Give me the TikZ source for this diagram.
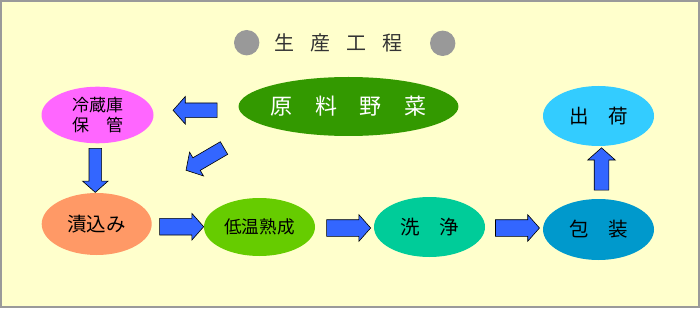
\documentclass[tikz,border=0pt]{standalone}
\usepackage{fontspec}
\newfontfamily\jp{Noto Sans CJK JP}
\usetikzlibrary{shapes.geometric,shapes.arrows}
\definecolor{bgyellow}{HTML}{FFFFCC}
\definecolor{framegray}{HTML}{9A9A9A}
\definecolor{dotgray}{HTML}{999999}
\definecolor{cmagenta}{HTML}{FF66FF}
\definecolor{cdkgreen}{HTML}{339900}
\definecolor{csalmon}{HTML}{FF9966}
\definecolor{clime}{HTML}{66CC00}
\definecolor{cteal}{HTML}{00CC99}
\definecolor{cblue}{HTML}{0099CC}
\definecolor{csky}{HTML}{33CCFF}
\definecolor{carrow}{HTML}{3366FF}
\definecolor{ctitle}{HTML}{333333}
\begin{document}
\begin{tikzpicture}[x=1pt,y=1pt,
  stage/.style={ellipse, inner sep=0pt, font=\jp, text=black, align=center},
  blockarrow/.style={single arrow, draw=black, line width=0.6pt, fill=carrow,
    inner sep=0pt, inner ysep=7pt, minimum height=44pt,
    single arrow head extend=6.5pt, single arrow tip angle=97, anchor=center},
  dot/.style={circle, fill=dotgray, inner sep=0pt, minimum size=25.4pt}]
\useasboundingbox (0,0) rectangle (700,308);
\fill[bgyellow] (0,0) rectangle (700,308);
\draw[framegray, line width=2pt] (1,1.2) rectangle (698.8,307);
% title
\node[dot] (dotL) at (246.7,265.3) {};
\node[dot] (dotR) at (442.7,264.7) {};
\node[font=\jp\fontsize{20}{24}\selectfont, text=ctitle, inner sep=0pt] (title) at (338,265.5)
  {生\hspace{16pt}産\hspace{16pt}工\hspace{16pt}程};
% stages
\node[stage, fill=cmagenta, minimum width=112pt, minimum height=56.6pt,
  font=\jp\fontsize{17}{20}\selectfont] (reizo) at (97.5,193) {冷蔵庫\\保\hspace{17pt}管};
\node[stage, fill=cdkgreen, minimum width=192pt, minimum height=59pt, text=white,
  font=\jp\fontsize{22}{26}\selectfont] (genryo) at (348.5,201.5)
  {原\hspace{22.5pt}料\hspace{22.5pt}野\hspace{22.5pt}菜};
\node[stage, fill=csalmon, minimum width=110pt, minimum height=62pt,
  font=\jp\fontsize{19.5}{23}\selectfont] (tsuke) at (96.7,84) {漬込み};
\node[stage, fill=clime, minimum width=111pt, minimum height=58pt,
  font=\jp\fontsize{17.6}{21}\selectfont] (teion) at (259.5,81) {低温熟成};
\node[stage, fill=cteal, minimum width=111pt, minimum height=60pt,
  font=\jp\fontsize{19.5}{23}\selectfont] (senjo) at (429.5,81) {洗\hspace{19.5pt}浄};
\node[stage, fill=cblue, minimum width=111pt, minimum height=61pt,
  font=\jp\fontsize{19.5}{23}\selectfont] (hoso) at (598.5,78.5) {包\hspace{19.5pt}装};
\node[stage, fill=csky, minimum width=111pt, minimum height=60pt,
  font=\jp\fontsize{19.5}{23}\selectfont] (shukka) at (598.5,192) {出\hspace{19.5pt}荷};
% block arrows
\node[blockarrow, rotate=180] (a1) at (198.3,197.7) {};
\node[blockarrow, rotate=210.3] (a2) at (207.8,150.5) {};
\node[blockarrow, rotate=270, inner ysep=6pt] (a3) at (95.3,140.4) {};
\node[blockarrow, inner ysep=8pt, single arrow head extend=5pt] (a4) at (178,81.3) {};
\node[blockarrow, inner ysep=8pt, single arrow head extend=5pt] (a5) at (345,80) {};
\node[blockarrow, inner ysep=8pt, single arrow head extend=5pt] (a6) at (513.8,80) {};
\node[blockarrow, rotate=90, minimum height=42.3pt] (a7) at (601.5,135.8) {};
\end{tikzpicture}
\end{document}
